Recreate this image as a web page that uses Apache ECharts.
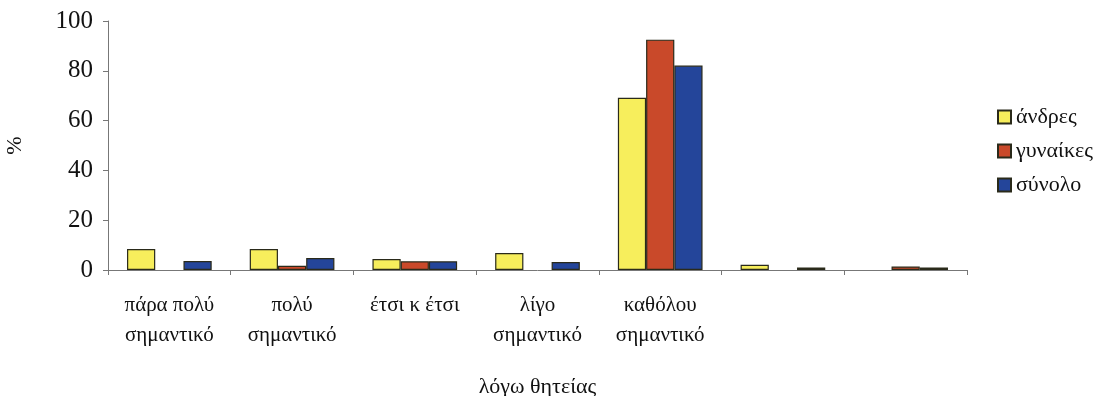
<!DOCTYPE html>
<html>
<head>
<meta charset="utf-8">
<script src="https://cdn.jsdelivr.net/npm/echarts@6/dist/echarts.min.js"></script>
<style>
  html, body { margin: 0; padding: 0; background: #ffffff; }
  #chart { width: 1104px; height: 396px; }
</style>
</head>
<body>
<div id="chart"></div>
<script>
// Reasons given, grouped by importance attached to military service
const categories = [
  'πάρα πολύ\nσημαντικό',
  'πολύ\nσημαντικό',
  'έτσι κ έτσι',
  'λίγο\nσημαντικό',
  'καθόλου\nσημαντικό',
  '',
  ''
];
const seriesNames = ['άνδρες', 'γυναίκες', 'σύνολο'];
const men   = [8.4, 8.4, 4.4, 6.8, 69.2, 2.1, 0];
const women = [0, 1.7, 3.5, 0, 92.5, 0, 1.4];
const total = [3.6, 4.8, 3.5, 3.2, 82.1, 1.0, 1.0];
const yTicks = { min: 0, max: 100, interval: 20 };

const colors = ['#f7ee5c', '#c9492a', '#24459a'];
const serif = '"Liberation Serif", "DejaVu Serif", serif';

const chart = echarts.init(document.getElementById('chart'), null, { renderer: 'canvas' });

const values = [men, women, total];
const series = seriesNames.map((name, i) => ({
  name,
  type: 'bar',
  // zero-valued bars are left without an outline so they vanish into the axis
  data: values[i].map(v => v === 0
    ? { value: v, itemStyle: { borderWidth: 0 } }
    : v),
  barGap: '0%',
  barCategoryGap: '31%',
  itemStyle: { color: colors[i], borderColor: '#2a2a1a', borderWidth: 1.2 },
  emphasis: { disabled: true }
}));

chart.setOption({
  backgroundColor: '#ffffff',
  animation: false,
  textStyle: { fontFamily: serif },
  grid: { left: 108, right: 137, top: 21, bottom: 126, outerBoundsMode: 'none' },
  legend: {
    orient: 'vertical',
    left: 992,
    top: 101,
    itemWidth: 13,
    itemHeight: 13,
    itemGap: 12,
    icon: 'rect',
    textStyle: { fontFamily: serif, fontSize: 22, color: '#111', padding: [0, 0, 0, 0] },
    data: seriesNames
  },
  xAxis: {
    type: 'category',
    data: categories,
    name: 'λόγω θητείας',
    nameLocation: 'middle',
    nameGap: 106,
    nameTextStyle: { fontFamily: serif, fontSize: 22, color: '#111' },
    axisLine: { lineStyle: { color: '#777', width: 1 } },
    axisTick: { show: true, length: 5, lineStyle: { color: '#777' } },
    axisLabel: {
      fontFamily: serif, fontSize: 21, color: '#111',
      lineHeight: 30, margin: 20, interval: 0
    }
  },
  yAxis: {
    type: 'value',
    min: yTicks.min,
    max: yTicks.max,
    interval: yTicks.interval,
    name: '%',
    nameLocation: 'middle',
    nameGap: 82,
    nameRotate: 90,
    nameTextStyle: { fontFamily: serif, fontSize: 22, color: '#111' },
    axisLine: { show: true, lineStyle: { color: '#777', width: 1 } },
    axisTick: { show: true, length: 5, lineStyle: { color: '#777' } },
    splitLine: { show: false },
    axisLabel: { fontFamily: serif, fontSize: 25, color: '#111', margin: 15 }
  },
  series
});
</script>
</body>
</html>
